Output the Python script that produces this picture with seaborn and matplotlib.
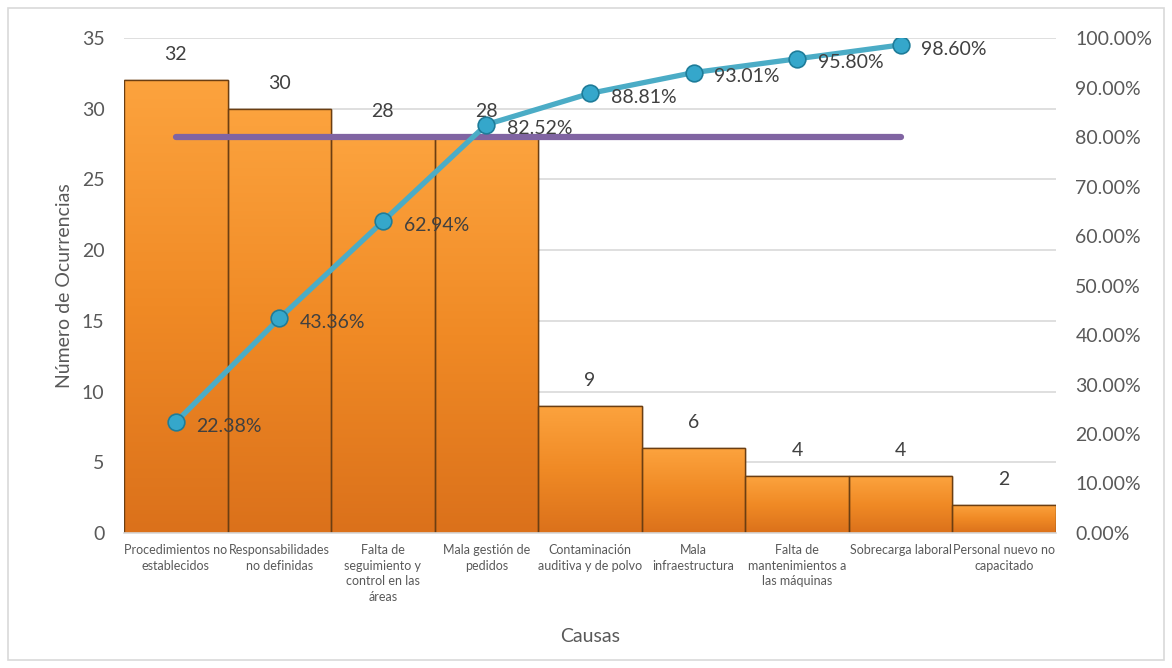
import numpy as np
import pandas as pd
import matplotlib.pyplot as plt
import seaborn as sns
from matplotlib.colors import LinearSegmentedColormap
from matplotlib.patches import Rectangle

# Datos del diagrama de Pareto
causas = [
    "Procedimientos no\nestablecidos",
    "Responsabilidades\nno definidas",
    "Falta de\nseguimiento y\ncontrol en las\náreas",
    "Mala gestión de\npedidos",
    "Contaminación\nauditiva y de polvo",
    "Mala\ninfraestructura",
    "Falta de\nmantenimientos a\nlas máquinas",
    "Sobrecarga laboral",
    "Personal nuevo no\ncapacitado",
]
ocurrencias = [32, 30, 28, 28, 9, 6, 4, 4, 2]
acumulado = [22.38, 43.36, 62.94, 82.52, 88.81, 93.01, 95.80, 98.60]
limite_80 = [80] * 8

sns.set_theme(style="white")
plt.rcParams['font.family'] = ['Lato', 'DejaVu Sans']

TXT = "#595959"

fig = plt.figure(figsize=(11.72, 6.68), dpi=100)
fig.patches.append(Rectangle((0.007, 0.012), 0.986, 0.976, transform=fig.transFigure,
                             fill=False, edgecolor="#D9D9D9", linewidth=1.2))
ax = fig.add_axes([0.1058, 0.2021, 0.7952, 0.7410])

df = pd.DataFrame({"causa": causas, "n": ocurrencias})
sns.barplot(data=df, x="causa", y="n", ax=ax, width=1.0, color="#F39230",
            saturation=1, edgecolor="#6B3E12", linewidth=1.0, zorder=2)

# degradado en las barras
cmap = LinearSegmentedColormap.from_list("nar", ["#FCA33E", "#F08A25", "#DB711B"])
grad = np.linspace(0, 1, 256).reshape(-1, 1)
for p in ax.patches:
    x0, w, h = p.get_x(), p.get_width(), p.get_height()
    im = ax.imshow(grad, cmap=cmap, aspect="auto", extent=(x0, x0 + w, 0, h),
                   origin="upper", zorder=2.1)
    im.set_clip_path(p)
    ax.add_patch(Rectangle((x0, 0), w, h, fill=False, edgecolor="#6B3E12",
                           linewidth=1.0, zorder=2.2))
    ax.text(x0 + w / 2, h + 1.8, f"{int(h)}", ha="center", va="center",
            fontsize=14, color="#404040", zorder=5)

ax.set_xlim(-0.5, len(causas) - 0.5)
ax.set_ylim(0, 35)
ax.set_yticks(range(0, 36, 5))
ax.yaxis.grid(True, color="#D9D9D9", linewidth=1.2)
ax.set_axisbelow(True)
for s in ["top", "right", "left"]:
    ax.spines[s].set_visible(False)
ax.spines["bottom"].set_color("#D9D9D9")
ax.spines["bottom"].set_linewidth(1.2)
ax.tick_params(axis="y", labelsize=14, colors=TXT, length=0, pad=14)
ax.tick_params(axis="x", labelsize=9, colors=TXT, length=0, pad=8)
for lbl in ax.get_xticklabels():
    lbl.set_linespacing(1.35)
ax.set_xlabel("Causas", fontsize=14, color=TXT, labelpad=18)
ax.set_ylabel("Número de Ocurrencias", fontsize=14, color=TXT, labelpad=6)

# eje secundario: porcentaje acumulado
ax2 = ax.twinx()
pos = list(range(len(acumulado)))
sns.lineplot(x=pos, y=limite_80, ax=ax2, color="#8064A2", linewidth=4.5, zorder=3)
sns.lineplot(x=pos, y=acumulado, ax=ax2, color="#4BACC6", linewidth=3.8,
             marker="o", markersize=12, markerfacecolor="#35A7CB",
             markeredgecolor="#1E7C99", markeredgewidth=1.2, zorder=4)
for xi, v in zip(pos, acumulado):
    ax2.annotate(f"{v:.2f}%", (xi, v), xytext=(15, -3), textcoords="offset points",
                 ha="left", va="center", fontsize=14, color="#404040", zorder=6)
ax2.set_ylim(0, 100)
ax2.set_yticks(range(0, 101, 10))
ax2.set_yticklabels([f"{t:.2f}%" for t in range(0, 101, 10)])
ax2.tick_params(axis="y", labelsize=14, colors=TXT, length=0, pad=14)
for s in ["top", "right", "left", "bottom"]:
    ax2.spines[s].set_visible(False)
ax2.grid(False)

fig.savefig("out.png", dpi=100)
